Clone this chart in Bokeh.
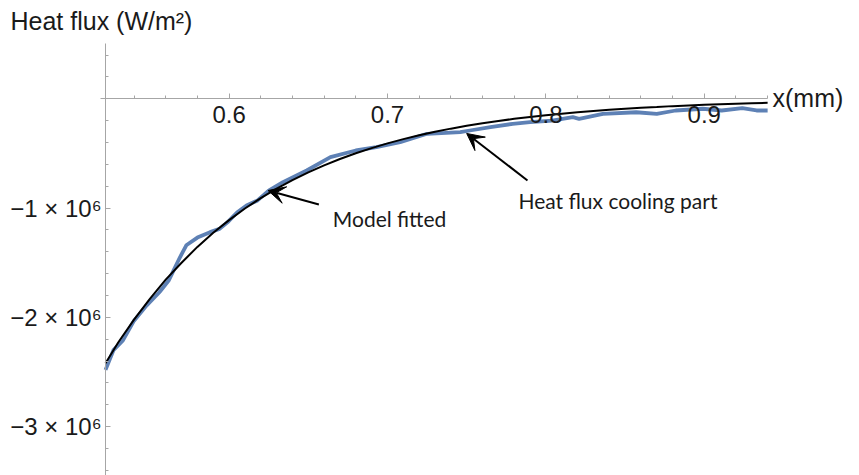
from bokeh.plotting import figure
from bokeh.models import (Range1d, LinearAxis, FixedTicker, CustomJSTickFormatter,
                          Label, Arrow, VeeHead)
from bokeh.embed import file_html
from bokeh.resources import INLINE

# Fitted exponential model of the heat flux (W/m^2) against position x (mm)
x_fit = [0.522, 0.53, 0.54, 0.55, 0.56, 0.57, 0.58, 0.59, 0.60, 0.61, 0.62, 0.63,
         0.64, 0.65, 0.66, 0.67, 0.68, 0.69, 0.70, 0.71, 0.72, 0.73, 0.74, 0.75,
         0.76, 0.77, 0.78, 0.79, 0.80, 0.81, 0.82, 0.83, 0.84, 0.85, 0.86, 0.87,
         0.88, 0.89, 0.90, 0.91, 0.92, 0.93, 0.94]
heat_fit = [-2.42e6, -2.23e6, -2.02e6, -1.83e6, -1.655e6, -1.50e6, -1.355e6, -1.226e6,
            -1.11e6, -1.004e6, -0.908e6, -0.822e6, -0.744e6, -0.673e6, -0.609e6,
            -0.551e6, -0.498e6, -0.451e6, -0.408e6, -0.369e6, -0.334e6, -0.302e6,
            -0.273e6, -0.247e6, -0.224e6, -0.203e6, -0.183e6, -0.166e6, -0.150e6,
            -0.136e6, -0.123e6, -0.111e6, -0.101e6, -0.091e6, -0.082e6, -0.075e6,
            -0.067e6, -0.061e6, -0.055e6, -0.050e6, -0.045e6, -0.041e6, -0.037e6]

# Measured heat flux during the cooling part
x_meas = [0.522, 0.527, 0.533, 0.540, 0.548, 0.556, 0.562, 0.565, 0.569, 0.573,
          0.580, 0.588, 0.594, 0.599, 0.605, 0.611, 0.618, 0.625, 0.634, 0.649,
          0.664, 0.680, 0.693, 0.708, 0.725, 0.737, 0.746, 0.752, 0.765, 0.779,
          0.790, 0.804, 0.817, 0.821, 0.836, 0.857, 0.870, 0.882, 0.899, 0.911,
          0.924, 0.933, 0.940]
heat_meas = [-2.48e6, -2.30e6, -2.21e6, -2.03e6, -1.89e6, -1.77e6, -1.66e6, -1.57e6,
             -1.45e6, -1.34e6, -1.27e6, -1.22e6, -1.19e6, -1.13e6, -1.04e6, -0.976e6,
             -0.93e6, -0.84e6, -0.763e6, -0.656e6, -0.534e6, -0.473e6, -0.443e6,
             -0.397e6, -0.32e6, -0.311e6, -0.305e6, -0.29e6, -0.26e6, -0.229e6,
             -0.214e6, -0.199e6, -0.168e6, -0.183e6, -0.137e6, -0.123e6, -0.137e6,
             -0.107e6, -0.091e6, -0.107e6, -0.086e6, -0.107e6, -0.107e6]

# Axis ticks
x_major = [0.6, 0.7, 0.8, 0.9]
x_minor = [0.54, 0.56, 0.58, 0.62, 0.64, 0.66, 0.68, 0.72, 0.74, 0.76, 0.78,
           0.82, 0.84, 0.86, 0.88, 0.92, 0.94]
y_major = [-3e6, -2e6, -1e6]
y_minor = [0.4e6, 0.2e6, -0.2e6, -0.4e6, -0.6e6, -0.8e6, -1.2e6, -1.4e6, -1.6e6,
           -1.8e6, -2.2e6, -2.4e6, -2.6e6, -2.8e6, -3.2e6, -3.4e6]

X_START, X_END = 0.522, 0.94          # drawn extent of the data axis
Y_BOTTOM, Y_TOP = -3.446e6, 0.506e6   # drawn extent of the heat-flux axis

TICK_FONT = "Liberation Sans"
NOTE_FONT = "Lato"
AXIS_COLOR = "#a6a6a6"
TEXT_COLOR = "#1a1a1a"

# The frame fills the page; both axes cross inside it (Mathematica-style)
p = figure(width=859, height=475,
           x_range=Range1d(0.4557, 0.9980), y_range=Range1d(-3.4465e6, 0.8994e6),
           x_axis_type=None, y_axis_type=None,
           output_backend="svg", toolbar_location=None, min_border=0)
p.outline_line_color = None
p.background_fill_color = "white"
p.border_fill_color = "white"


def style_axis(ax):
    ax.axis_line_color = AXIS_COLOR
    ax.major_tick_line_color = AXIS_COLOR
    ax.minor_tick_line_color = AXIS_COLOR
    ax.major_tick_in = 5
    ax.major_tick_out = 0
    ax.minor_tick_in = 3
    ax.minor_tick_out = 0
    ax.major_label_text_font = TICK_FONT
    ax.major_label_text_font_size = "24px"
    ax.major_label_text_color = TEXT_COLOR


xaxis = LinearAxis(fixed_location=0, bounds=(X_START - 0.003, X_END),
                   ticker=FixedTicker(ticks=x_major, minor_ticks=x_minor))
style_axis(xaxis)
xaxis.major_label_standoff = 7
p.add_layout(xaxis, "below")

yaxis = LinearAxis(fixed_location=X_START, bounds=(Y_BOTTOM, Y_TOP),
                   ticker=FixedTicker(ticks=y_major, minor_ticks=y_minor),
                   formatter=CustomJSTickFormatter(code="""
                       const n = Math.round(tick / 1e6);
                       return (n < 0 ? "\\u2212" : "") + Math.abs(n) + " \\u00d7 10\\u2076";
                   """))
style_axis(yaxis)
yaxis.major_label_standoff = 4
p.add_layout(yaxis, "left")

# Curves
p.line(x_meas, heat_meas, line_color="#5E81B5", line_width=3.8, line_join="round")
p.line(x_fit, heat_fit, line_color="black", line_width=2)

# Axis titles
p.add_layout(Label(x=0.462, y=0.716e6, text="Heat flux (W/m²)", text_font=TICK_FONT,
                   text_font_size="25px", text_color=TEXT_COLOR,
                   text_baseline="middle", text_align="left"))
p.add_layout(Label(x=0.9431, y=0.01e6, text="x(mm)", text_font=TICK_FONT,
                   text_font_size="25px", text_color=TEXT_COLOR,
                   text_baseline="middle", text_align="left"))

# Annotations with arrows
p.add_layout(Label(x=0.6655, y=-1.095e6, text="Model fitted", text_font=NOTE_FONT,
                   text_font_size="21px", text_color=TEXT_COLOR,
                   text_baseline="middle", text_align="left"))
p.add_layout(Label(x=0.7827, y=-0.93e6, text="Heat flux cooling part",
                   text_font=NOTE_FONT, text_font_size="21px", text_color=TEXT_COLOR,
                   text_baseline="middle", text_align="left"))
p.add_layout(Arrow(x_start=0.6567, y_start=-0.967e6, x_end=0.6246, y_end=-0.839e6,
                   line_width=2, line_color="black",
                   end=VeeHead(size=17, fill_color="black", line_color="black")))
p.add_layout(Arrow(x_start=0.7884, y_start=-0.747e6, x_end=0.750, y_end=-0.317e6,
                   line_width=2, line_color="black",
                   end=VeeHead(size=17, fill_color="black", line_color="black")))

open("out.html", "w").write(file_html(p, INLINE))
